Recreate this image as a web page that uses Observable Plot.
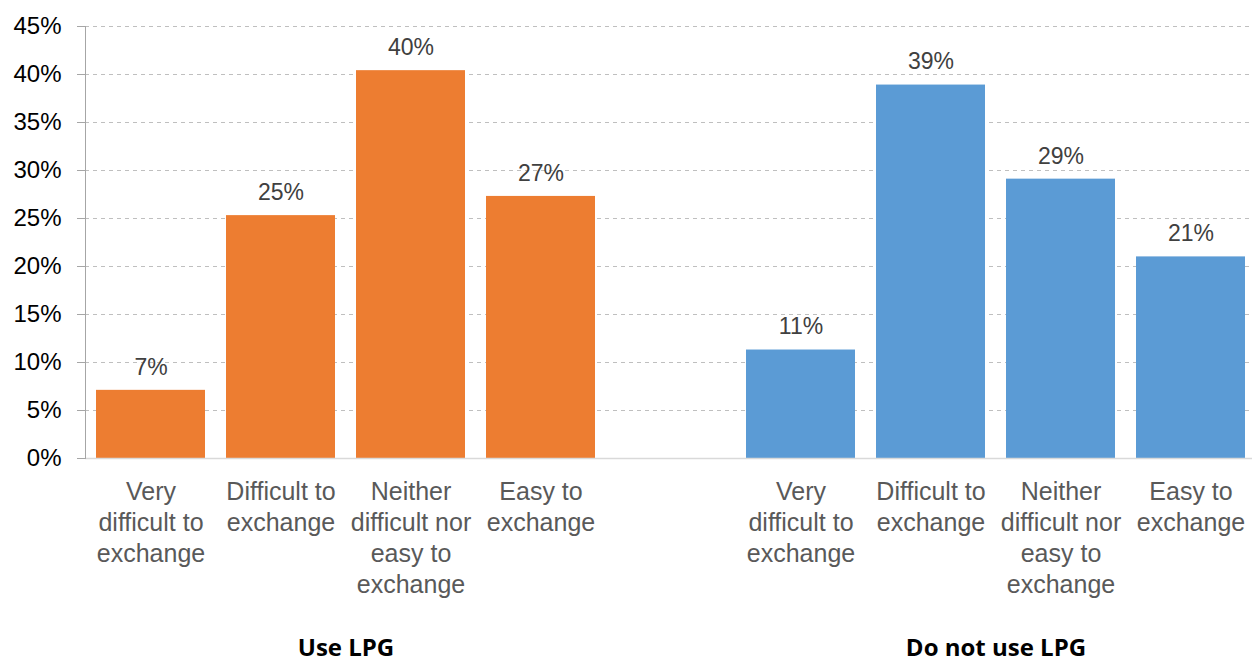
<!DOCTYPE html>
<html>
<head>
<meta charset="utf-8">
<script src="https://cdn.jsdelivr.net/npm/d3@7"></script>
<script src="https://cdn.jsdelivr.net/npm/@observablehq/plot@0.6"></script>
<style>
  html, body { margin: 0; padding: 0; background: #fff; }
  #chart svg { display: block; }
</style>
</head>
<body>
<div id="chart"></div>
<script>
const groups = ["Use LPG", "Do not use LPG"];
const categories = [
  "Very\ndifficult to\nexchange",
  "Difficult to\nexchange",
  "Neither\ndifficult nor\neasy to\nexchange",
  "Easy to\nexchange"
];
const useLPG = [7.1, 25.3, 40.4, 27.3];
const noLPG = [11.3, 38.9, 29.1, 21.0];
const yTicks = [0, 5, 10, 15, 20, 25, 30, 35, 40, 45];
const colors = ["#ED7D31", "#5B9BD5"];

// slots: 4 bars, empty gap, 4 bars
const slots = ["s0", "s1", "s2", "s3", "gap", "s5", "s6", "s7", "s8"];
const rows = [];
[useLPG, noLPG].forEach((vals, g) => {
  vals.forEach((v, i) => {
    rows.push({slot: slots[g * 5 + i], group: groups[g], cat: categories[i], value: v, label: Math.round(v) + "%"});
  });
});
const groupRows = groups.map((g, i) => ({group: g, slot: i === 0 ? "s1" : "s6"}));

const W = 1252, ML = 85;
const xRange = [85, 1255];
const step = (xRange[1] - xRange[0]) / slots.length;

const plot = Plot.plot({
  width: W,
  height: 661,
  marginLeft: ML,
  marginRight: 0,
  marginTop: 26,
  marginBottom: 203,
  style: {fontFamily: "'Liberation Sans', Arial, sans-serif", background: "#fff", overflow: "visible"},
  x: {domain: slots, range: xRange, paddingInner: 0.165, paddingOuter: 0.0825, axis: null},
  y: {domain: [0, 45], axis: null, label: null},
  color: {domain: groups, range: colors},
  marks: [
    Plot.gridY(yTicks, {stroke: "#bfbfbf", strokeOpacity: 1, strokeDasharray: "4,4"}),
    Plot.barY(rows, {x: "slot", y: "value", fill: "group"}),
    Plot.ruleY([0], {stroke: "#d9d9d9", strokeWidth: 1.5}),
    Plot.frame({anchor: "left", stroke: "#a6a6a6"}),
    Plot.axisY(yTicks, {
      tickFormat: d => d + "%",
      tickSize: 8,
      tickPadding: 16,
      fontSize: 24,
      label: null,
      stroke: "#a6a6a6",
      fill: "#000"
    }),
    Plot.text(rows, {x: "slot", y: "value", text: "label", fontSize: 23, fill: "#404040", lineAnchor: "middle", dy: -23}),
    Plot.text(rows, {x: "slot", y: 0, text: "cat", fontSize: 25, fill: "#595959", lineAnchor: "top", lineHeight: 1.25, dy: 19}),
    Plot.text(groupRows, {x: "slot", y: 0, text: "group", fontSize: 24, fontWeight: "bold", fill: "#000",
      fontFamily: "'Open Sans', sans-serif", lineAnchor: "middle", dx: step / 2, dy: 190})
  ]
});
document.getElementById("chart").appendChild(plot);
</script>
</body>
</html>
